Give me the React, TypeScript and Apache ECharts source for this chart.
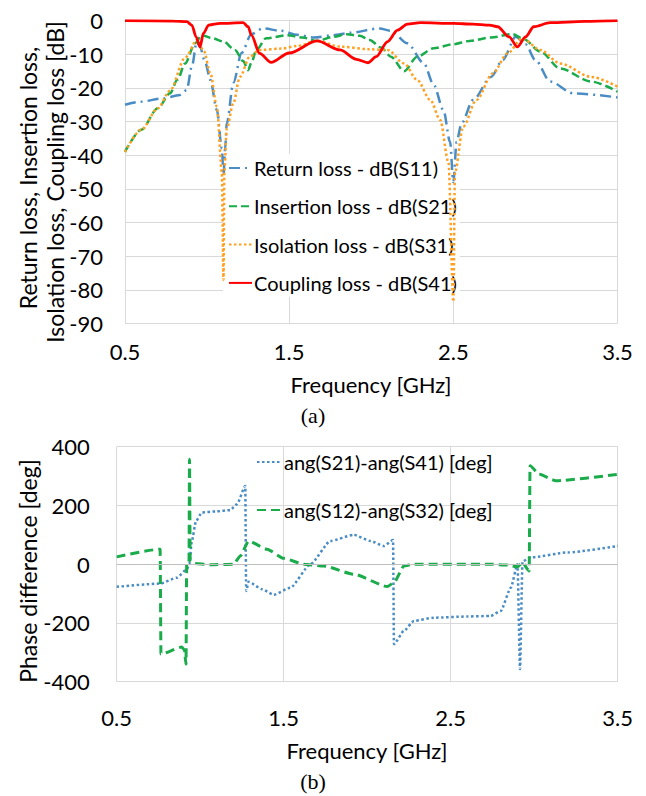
import React, { useEffect, useRef } from 'react';
import * as echarts from 'echarts';

// Frequency axis ticks (GHz)
const freqTicks = [0.5, 1.5, 2.5, 3.5];
const dbTicks = [0, -10, -20, -30, -40, -50, -60, -70, -80, -90];
const degTicks = [400, 200, 0, -200, -400];

// (a) S-parameter magnitudes, [GHz, dB]
const s11ReturnLoss: [number, number][] = [
  [0.5, -25], [0.59, -24.1], [0.73, -23.1], [0.835, -22.1], [0.876, -20.6], [0.907, -13.7],
  [0.937, -6.3], [0.955, -7.5], [0.99, -12.6], [1.02, -17.6], [1.06, -26.6], [1.09, -38],
  [1.1, -46], [1.11, -38], [1.12, -30.5], [1.16, -18.5], [1.21, -9.6], [1.27, -4],
  [1.34, -2.3], [1.45, -3], [1.55, -4.2], [1.65, -5], [1.77, -4.3], [1.87, -3.6],
  [2.05, -2.3], [2.12, -3], [2.22, -6.7], [2.32, -12.6], [2.38, -19], [2.44, -26.6],
  [2.48, -36], [2.5, -48], [2.52, -36], [2.55, -30.5], [2.62, -23.6], [2.73, -16.7],
  [2.8, -11.7], [2.88, -4.8], [2.94, -7], [3.0, -11.7], [3.09, -18.1], [3.23, -21.6], [3.5, -22.8],
];
const s21InsertionLoss: [number, number][] = [
  [0.5, -39], [0.6, -32.4], [0.7, -26], [0.774, -21.6], [0.82, -17.5], [0.866, -12.7],
  [0.927, -6.7], [0.968, -4.3], [1.03, -5.2], [1.1, -6.2], [1.17, -8.7], [1.22, -12],
  [1.25, -14.7], [1.27, -12.5], [1.3, -8.7], [1.36, -5.2], [1.49, -4.3], [1.58, -5],
  [1.67, -6], [1.77, -4.8], [1.85, -4], [1.93, -4.5], [1.99, -5.7], [2.06, -8],
  [2.12, -10.7], [2.2, -15], [2.28, -10.7], [2.38, -8.2], [2.5, -7], [2.6, -6],
  [2.73, -5], [2.86, -4], [2.93, -5.5], [3.03, -9.2], [3.15, -14.2], [3.34, -18.1], [3.5, -21.1],
];
const s31IsolationLoss: [number, number][] = [
  [0.5, -39], [0.6, -32.4], [0.7, -26], [0.774, -20.8], [0.866, -11], [0.94, -5.7],
  [0.98, -9], [1.02, -15.6], [1.06, -25.6], [1.09, -45], [1.1, -77], [1.105, -45],
  [1.12, -32], [1.16, -24.5], [1.2, -16.7], [1.26, -10.7], [1.32, -8.7], [1.45, -8.3],
  [1.55, -7.5], [1.67, -6], [1.81, -7.7], [1.99, -8.5], [2.1, -8.7], [2.2, -12.7],
  [2.28, -17.6], [2.36, -23.6], [2.42, -29.5], [2.47, -42], [2.5, -83.5], [2.51, -45],
  [2.56, -31.5], [2.64, -23.6], [2.74, -15.7], [2.83, -9.7], [2.92, -5.2], [3.03, -8.7],
  [3.15, -12.7], [3.34, -16.7], [3.5, -19.6],
];
const s41CouplingLoss: [number, number][] = [
  [0.5, 0], [0.8, -0.1], [0.876, -0.3], [0.907, -1.3], [0.933, -4.8], [0.957, -7.8],
  [0.977, -3.8], [1.01, -1.3], [1.08, -0.8], [1.22, -0.6], [1.25, -1.8], [1.27, -4.3],
  [1.32, -9.7], [1.39, -12.4], [1.5, -9.6], [1.67, -6], [1.81, -8.7], [1.91, -11.5],
  [1.98, -12.5], [2.03, -10.7], [2.1, -6.2], [2.16, -2.8], [2.22, -1], [2.3, -0.6],
  [2.5, -0.8], [2.62, -1], [2.72, -1.3], [2.77, -1.8], [2.84, -4.8], [2.89, -7.8],
  [2.94, -4.8], [2.99, -1.8], [3.09, -0.6], [3.3, -0.2], [3.5, 0],
];

// (b) phase differences, [GHz, deg]
const phaseS21S41: [number, number][] = [
  [0.5, -77], [0.76, -66], [0.86, -46], [0.92, -17], [0.935, 0], [0.95, 79], [0.975, 147],
  [1.01, 176], [1.1, 180], [1.18, 184], [1.22, 204], [1.27, 266], [1.275, -91], [1.29, -60],
  [1.37, -85], [1.44, -104], [1.54, -80], [1.66, 0], [1.78, 79], [1.92, 100], [2.02, 79],
  [2.1, 62], [2.155, 82], [2.16, -272], [2.22, -227], [2.28, -193], [2.4, -182], [2.6, -178],
  [2.74, -176], [2.8, -159], [2.86, -80], [2.9, 0], [2.915, -357], [2.93, 10], [2.98, 23],
  [3.2, 40], [3.5, 62],
];
const phaseS12S32: [number, number][] = [
  [0.5, 25], [0.76, 51], [0.765, -306], [0.89, -282], [0.905, -292], [0.915, -340], [0.919, 5],
  [0.933, 5], [0.936, 357], [0.94, 10], [0.96, 3], [1.06, -2], [1.2, 0], [1.24, 28], [1.29, 79],
  [1.4, 51], [1.5, 20], [1.62, 0], [1.74, -6], [1.92, -34], [2.12, -76], [2.16, -63], [2.22, -6],
  [2.28, 0], [2.74, 0], [2.84, -3], [2.9, -9], [2.93, 5], [2.97, -23], [2.975, 335], [3.03, 306],
  [3.13, 284], [3.5, 306],
];

const FONT = 'Lato';
const BLUE = '#4a8cc4';
const GREEN = '#1aab4b';
const ORANGE = '#ffa020';
const RED = '#ff0000';
const GRID = '#d9d9d9';

const fmtFreq = (v: number) => v.toFixed(1);

export default function App() {
  const ref = useRef<HTMLDivElement>(null);
  useEffect(() => {
    if (!ref.current) return;
    const chart = echarts.init(ref.current, null, { renderer: 'svg' });
    const axisLabel = { fontFamily: FONT, fontSize: 22, color: '#000' };
    const xAxisBase = (gridIndex: number, margin: number) => ({
      type: 'value', gridIndex, min: freqTicks[0], max: freqTicks[freqTicks.length - 1], interval: 1,
      axisLine: { show: false }, axisTick: { show: false },
      axisLabel: { ...axisLabel, margin, formatter: fmtFreq },
      splitLine: { show: true, lineStyle: { color: GRID, width: 1 } },
    });
    const lineSeries = (name: string, data: any, color: string, type: any, width: number, xi: number, smooth: number) => ({
      name, type: 'line', data, xAxisIndex: xi, yAxisIndex: xi, showSymbol: false, symbol: 'none',
      smooth, smoothMonotone: 'x', color,
      lineStyle: { color, width, type, cap: 'butt' },
    });
    const legendText = { fontFamily: FONT, fontSize: 20, color: '#000', padding: [0, 0, 0, -3] };
    chart.setOption({
      animation: false,
      backgroundColor: '#fff',
      grid: [
        { left: 125, top: 20.7, width: 492.5, height: 302.8 },
        { left: 116.7, top: 446.7, width: 501, height: 235 },
      ],
      xAxis: [xAxisBase(0, 17), xAxisBase(1, 25)],
      yAxis: [
        {
          type: 'value', gridIndex: 0, min: dbTicks[dbTicks.length - 1], max: dbTicks[0], interval: 10,
          axisLine: { show: false }, axisTick: { show: false },
          axisLabel: { ...axisLabel, margin: 22 },
          splitLine: { show: true, lineStyle: { color: GRID, width: 1 } },
        },
        {
          type: 'value', gridIndex: 1, min: degTicks[degTicks.length - 1], max: degTicks[0], interval: 200,
          axisLine: { show: false }, axisTick: { show: false },
          axisLabel: { ...axisLabel, margin: 27 },
          splitLine: { show: true, lineStyle: { color: GRID, width: 1 } },
        },
      ],
      legend: [
        {
          data: ['Return loss - dB(S11)', 'Insertion loss - dB(S21)', 'Isolation loss - dB(S31)', 'Coupling loss - dB(S41)'],
          orient: 'vertical', left: 223, top: 154, itemGap: 18.3, itemWidth: 23, itemHeight: 14, padding: [4, 3, 4, 5],
          itemStyle: { opacity: 0 }, z: 1,
          textStyle: legendText,
          backgroundColor: '#fff',
        },
        {
          data: ['ang(S21)-ang(S41) [deg]', 'ang(S12)-ang(S32) [deg]'],
          orient: 'vertical', left: 251, top: 447, itemGap: 28, itemWidth: 25, itemHeight: 14,
          itemStyle: { opacity: 0 }, z: 1,
          textStyle: legendText,
        },
      ],
      series: [
        lineSeries('Return loss - dB(S11)', s11ReturnLoss, BLUE, [11, 5, 2, 5], 2.5, 0, 0.3),
        lineSeries('Insertion loss - dB(S21)', s21InsertionLoss, GREEN, [8, 4], 2.5, 0, 0.3),
        lineSeries('Isolation loss - dB(S31)', s31IsolationLoss, ORANGE, [2.5, 2.5], 2.5, 0, 0.3),
        lineSeries('Coupling loss - dB(S41)', s41CouplingLoss, RED, 'solid', 2.8, 0, 0.3),
        {
          ...lineSeries('ang(S21)-ang(S41) [deg]', phaseS21S41, BLUE, [2.5, 2.5], 2.5, 1, 0.2),
          markLine: {
            silent: true, symbol: 'none', label: { show: false },
            lineStyle: { color: '#bfbfbf', type: 'solid', width: 1 },
            data: [{ yAxis: 0 }],
          },
        },
        lineSeries('ang(S12)-ang(S32) [deg]', phaseS12S32, GREEN, [9, 5], 3, 1, 0.2),
      ],
      graphic: [
        { type: 'text', x: 371, y: 384, style: { text: 'Frequency [GHz]', font: `22px ${FONT}`, fill: '#000', textAlign: 'center', textVerticalAlign: 'middle' } },
        { type: 'text', x: 313, y: 415, style: { text: '(a)', font: '22px "Liberation Serif"', fill: '#000', textAlign: 'center', textVerticalAlign: 'middle' } },
        { type: 'text', x: 367, y: 750, style: { text: 'Frequency [GHz]', font: `22px ${FONT}`, fill: '#000', textAlign: 'center', textVerticalAlign: 'middle' } },
        { type: 'text', x: 313, y: 781, style: { text: '(b)', font: '22px "Liberation Serif"', fill: '#000', textAlign: 'center', textVerticalAlign: 'middle' } },
        { type: 'text', x: 28, y: 178, rotation: Math.PI / 2, style: { text: 'Return loss, Insertion loss,', font: `23px ${FONT}`, fill: '#000', textAlign: 'center', textVerticalAlign: 'middle' } },
        { type: 'text', x: 55, y: 182, rotation: Math.PI / 2, style: { text: 'Isolation loss, Coupling loss [dB]', font: `23px ${FONT}`, fill: '#000', textAlign: 'center', textVerticalAlign: 'middle' } },
        { type: 'text', x: 28, y: 571, rotation: Math.PI / 2, style: { text: 'Phase difference [deg]', font: `23px ${FONT}`, fill: '#000', textAlign: 'center', textVerticalAlign: 'middle' } },
      ],
    });
    return () => chart.dispose();
  }, []);
  return <div ref={ref} style={{ position: 'absolute', left: 0, top: 0, width: 646, height: 796, background: '#fff' }} />;
}
